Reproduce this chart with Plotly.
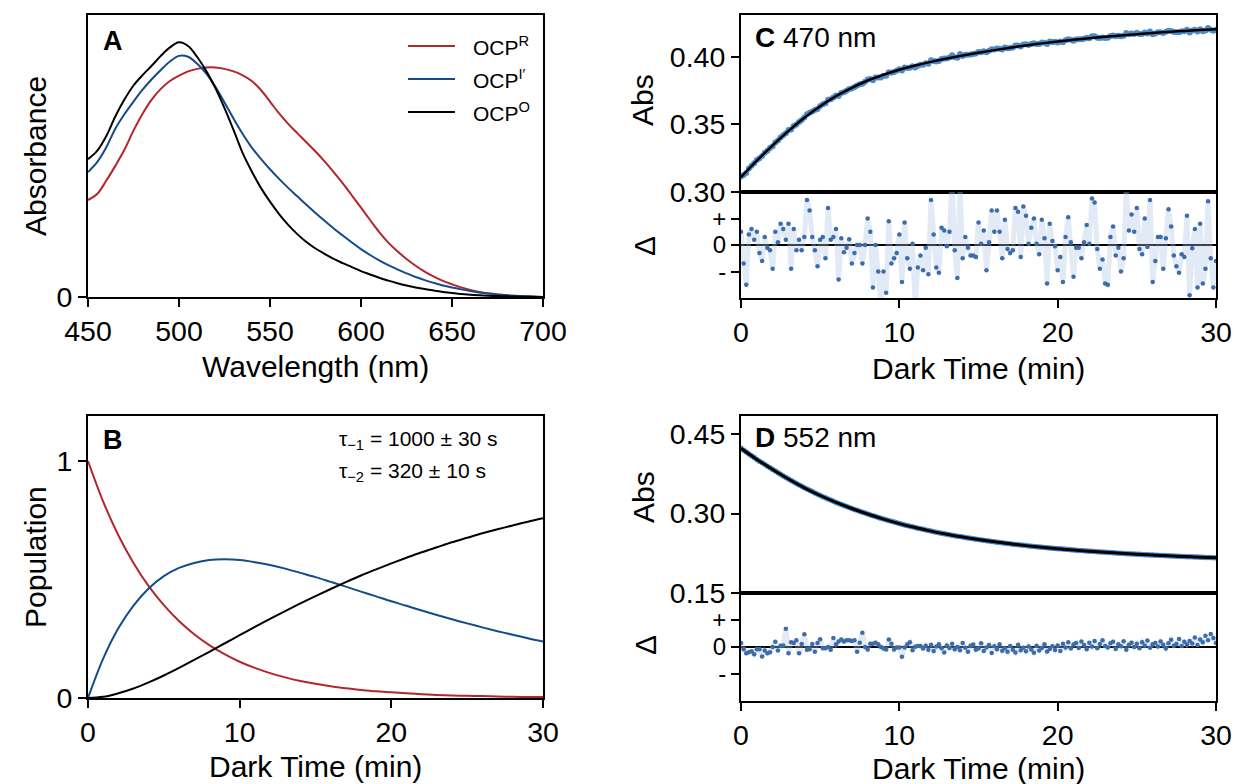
import plotly.graph_objects as go

# ---------------- data ----------------
wavelength = list(range(450, 701, 5))
abs_R = [.344, .365, .412, .465, .522, .590, .650, .700, .738, .766, .785, .800, .809, .814, .814, .809,
         .800, .786, .766, .734, .693, .651, .614, .581, .549, .516, .481, .443, .403, .360, .317, .273,
         .230, .193, .162, .135, .111, .090, .072, .057, .045, .034, .025, .018, .013, .009, .006, .0035,
         .002, .001, 0.0]
abs_I = [.443, .478, .530, .597, .648, .693, .735, .772, .805, .835, .855, .852, .827, .792, .745, .690,
         .632, .578, .530, .490, .453, .419, .387, .357, .327, .298, .270, .243, .218, .193, .170, .149,
         .130, .113, .098, .084, .071, .060, .050, .041, .034, .027, .021, .016, .012, .009, .006, .004,
         .0025, .001, 0.0]
abs_O = [.489, .518, .570, .640, .700, .750, .787, .820, .855, .885, .903, .890, .851, .801, .741, .670,
         .592, .510, .445, .387, .338, .294, .256, .223, .195, .172, .153, .135, .120, .106, .092, .080,
         .068, .058, .049, .041, .034, .028, .023, .018, .014, .011, .008, .006, .0045, .0033, .0024, .0016,
         .001, .0005, 0.0]

t_min = list(range(0, 31))
pop_R = [1.0, .829, .687, .570, .472, .392, .325, .269, .223, .185, .153, .127, .105, .087, .072, .060,
         .050, .041, .034, .028, .024, .020, .016, .013, .011, .009, .008, .006, .005, .004, .004]
pop_I = [0.0, .166, .294, .390, .462, .514, .549, .570, .582, .585, .582, .573, .561, .546, .528, .510,
         .490, .470, .449, .429, .408, .389, .369, .350, .332, .315, .298, .282, .267, .252, .238]
pop_O = [0.0, .005, .020, .040, .066, .095, .127, .161, .195, .230, .265, .300, .334, .367, .399, .430,
         .460, .489, .517, .543, .568, .592, .615, .636, .657, .676, .695, .712, .728, .744, .759]

t_kin = [i / 6 for i in range(181)]   # 10 s sampling, minutes

fit470 = [.3110, .3232, .3345, .3452, .3550, .3635, .3710, .3771, .3825, .3868, .3905, .3936, .3963, .3988,
          .4010, .4031, .4050, .4068, .4085, .4100, .4114, .4127, .4138, .4149, .4159, .4168, .4177, .4185,
          .4192, .4199, .4205]
abs470 = [.3114, .3125, .3140, .3174, .3195, .3213, .3236, .3249, .3266, .3290, .3306, .3325,
          .3339, .3366, .3382, .3404, .3420, .3435, .3458, .3462, .3489, .3500, .3518, .3533,
          .3552, .3576, .3587, .3595, .3606, .3615, .3636, .3650, .3656, .3683, .3686, .3700,
          .3714, .3711, .3732, .3739, .3750, .3763, .3766, .3778, .3789, .3798, .3802, .3816,
          .3832, .3836, .3828, .3847, .3847, .3847, .3861, .3861, .3886, .3882, .3889, .3897,
          .3908, .3900, .3921, .3917, .3920, .3931, .3921, .3934, .3942, .3942, .3953, .3950,
          .3975, .3970, .3965, .3969, .3985, .3988, .3988, .3995, .4012, .3998, .3994, .4021,
          .4006, .4016, .4016, .4018, .4021, .4025, .4037, .4034, .4041, .4034, .4045, .4056,
          .4054, .4062, .4060, .4055, .4069, .4064, .4066, .4070, .4084, .4085, .4076, .4092,
          .4093, .4088, .4095, .4100, .4095, .4096, .4107, .4104, .4095, .4113, .4110, .4112,
          .4107, .4113, .4108, .4123, .4130, .4126, .4119, .4128, .4130, .4130, .4135, .4141,
          .4138, .4152, .4153, .4142, .4139, .4143, .4139, .4141, .4154, .4159, .4153, .4156,
          .4152, .4157, .4176, .4168, .4173, .4170, .4178, .4169, .4169, .4180, .4174, .4188,
          .4167, .4174, .4182, .4183, .4176, .4186, .4194, .4191, .4184, .4183, .4183, .4189,
          .4189, .4201, .4181, .4195, .4201, .4187, .4205, .4190, .4195, .4214, .4200, .4193,
          .4201]
res470 = [0.5, -0.7, -1.5, 0.4, 0.6, 0.2, 0.5, -0.3, -0.6, 0.3, -0.1, -0.2, -0.9, 0.5, 0.1, 0.8, 0.6, 0.2,
          0.8, -0.9, 0.6, -0.2, 0.2, -0.2, 0.3, 1.7, 1.3, 0.3, -0.2, -0.8, 0.2, 0.3, -0.5, 1.4, 0.2, 0.3,
          0.6, -1.3, 0.25, -0.27, -0.1, 0.22, -0.7, -0.3, 0.0,
          0.0, -0.7, 0.0, 1.0, 0.5, -1.6, 0.0, -1.0, -2.2, -1.0,
          -1.8, 0.9, -0.7, -0.5, -0.3, 0.4, -1.4, 0.85, -0.5, -0.9,
          0.05, -2.3, -0.85, -0.4, -0.95, -0.1, -1.1, 1.7, 0.4, -0.85,
          -1.05, 0.65, 0.55, -0.05, 0.5, 2.4, -0.2, -1.25, 2.3, -0.5,
          0.3, -0.1, -0.4, -0.4, -0.45, 0.85, 0.05, 0.55, -0.95, 0.1,
          1.3, 0.5, 1.3, 0.5, -0.5, 0.95, -0.15, -0.3, -0.2, 1.4,
          1.25, -0.45, 1.45, 1.1, 0.05, 0.65, 1.0, 0.05, -0.35, 0.95,
          0.25, -1.45, 0.8, 0.15, -0.05, -0.95, -0.45, -1.4, 0.3, 1.05,
          0.1, -1.2, -0.1, -0.1, -0.5, 0.1, 0.75, 0.05, 1.75, 1.6,
          -0.15, -0.9, -0.55, -1.45, -1.5, 0.3, 0.7,
          -0.4, -0.1, -1.0, -0.5, 2.2, 0.55, 1.15, 0.5, 1.4, -0.15, -0.35,
          1.0, -0.08, 1.7, -1.4, -0.6, 0.3, 0.3, -0.9, 0.25, 1.35,
          0.7, -0.4, -0.8, -1.05, -0.35, -0.45, 1.1, -1.9, -0.12, 0.6,
          -1.6, 0.8, -1.45, -0.9, 1.65, -0.5, -1.6, -0.6]

fit552 = [.4230, .4020, .3830, .3650, .3485, .3340, .3210, .3095, .2990, .2895, .2810, .2735, .2668, .2608,
          .2555, .2508, .2466, .2428, .2394, .2364, .2337, .2312, .2289, .2268, .2249, .2232, .2216, .2201,
          .2188, .2176, .2165]
abs552 = [.4230, .4195, .4160, .4125, .4090, .4055, .4020, .3988, .3957, .3925, .3893, .3862,
          .3830, .3800, .3770, .3740, .3710, .3680, .3650, .3623, .3595, .3568, .3540, .3513,
          .3485, .3461, .3437, .3413, .3388, .3364, .3340, .3318, .3297, .3275, .3253, .3232,
          .3210, .3191, .3172, .3153, .3133, .3114, .3095, .3078, .3060, .3043, .3025, .3008,
          .2990, .2974, .2958, .2943, .2927, .2911, .2895, .2881, .2867, .2853, .2838, .2824,
          .2810, .2798, .2785, .2773, .2760, .2748, .2735, .2724, .2713, .2701, .2690, .2679,
          .2668, .2658, .2648, .2638, .2628, .2618, .2608, .2599, .2590, .2582, .2573, .2564,
          .2555, .2547, .2539, .2532, .2524, .2516, .2508, .2501, .2494, .2487, .2480, .2473,
          .2466, .2460, .2453, .2447, .2441, .2434, .2428, .2422, .2417, .2411, .2405, .2400,
          .2394, .2389, .2384, .2379, .2374, .2369, .2364, .2360, .2355, .2351, .2346, .2342,
          .2337, .2333, .2329, .2324, .2320, .2316, .2312, .2308, .2304, .2301, .2297, .2293,
          .2289, .2286, .2282, .2279, .2275, .2272, .2268, .2265, .2262, .2258, .2255, .2252,
          .2249, .2246, .2243, .2241, .2238, .2235, .2232, .2229, .2227, .2224, .2221, .2219,
          .2216, .2214, .2211, .2209, .2206, .2204, .2201, .2199, .2197, .2194, .2192, .2190,
          .2188, .2186, .2184, .2182, .2180, .2178, .2176, .2174, .2172, .2171, .2169, .2167,
          .2165]
res552 = [0.15, -0.08, -0.23, -0.19, -0.16, -0.27, -0.08, -0.08, -0.35, -0.13,
          -0.23, -0.19, 0.0, 0.19, -0.13, 0.05, 0.06, 0.68, -0.23, 0.18,
          0.15, 0.25, -0.23, 0.11, 0.47, -0.1, -0.08, 0.11, -0.18, 0.15,
          0.29, -0.05, -0.05, 0.0, -0.1,
          0.33, 0.1, 0.2, 0.28, 0.2, 0.25, 0.25, 0.22, 0.25, -0.18, 0.16, 0.53, 0.0, -0.09, 0.12,
          0.12, 0.16, 0.1, 0.0, -0.06, -0.09, 0.28, 0.12, -0.09, -0.02, -0.02, -0.36, -0.02, 0.1,
          0.18, -0.12, 0.01, 0.04, 0.04, -0.06,
          0.05, -0.1, 0.08, -0.15, 0.02, 0.1, -0.05, -0.2, 0.06, -0.04,
          0.12, -0.08, 0.0, -0.12, 0.15, -0.03, -0.18, 0.05, 0.09, -0.1,
          -0.06, 0.14, -0.15, -0.02, 0.07, -0.22, 0.03, -0.08, 0.1, -0.14,
          -0.05, -0.18, 0.04, -0.1, -0.2, 0.08, -0.12, -0.03, -0.16, 0.02,
          -0.09, -0.21, 0.05, -0.13, -0.04, 0.1, -0.17, -0.07, 0.03, -0.11,
          0.06, -0.15, 0.12, -0.02, 0.18, -0.06, 0.09, 0.15, -0.04, 0.2,
          0.07, -0.08, 0.16, 0.02, 0.22, -0.05, 0.11, 0.25, 0.04, -0.02,
          0.14, 0.19, -0.07, 0.1, 0.03, 0.21, -0.1, 0.08, 0.16, 0.0,
          0.12, -0.05, 0.18, 0.06, 0.24, -0.03, 0.1, 0.15, 0.02, 0.2,
          0.08, -0.06, 0.14, 0.27, 0.05, 0.11, 0.3, 0.04, 0.19, 0.09,
          0.22, 0.13, 0.35, 0.07, 0.28, 0.18, 0.42, 0.25, 0.48, 0.33,
          0.15]

series_names = ["OCP<sup>R</sup>", "OCP<sup>I\u2032</sup>", "OCP<sup>O</sup>"]
res_ticks = ["-", "0", "+"]
RED, BLUE, BLACK = "#b3262c", "#134b8b", "#000000"
DOT, DOT_RES, BAND = "#4d8cc9", "#3c6ca9", "rgba(170,195,225,0.35)"
FONT = "Liberation Sans, Arial, Helvetica, sans-serif"
TICK_SIZE, RES_TICK_SIZE, TITLE_SIZE = 28.5, 24, 30

# ---------------- layout helpers (pixel -> paper) ----------------
W, H = 1235, 784
def fx(p): return p / W
def fy(p): return 1 - p / H

def ax(**kw):
    base = dict(showline=True, linecolor="black", linewidth=2, mirror=True, ticks="outside",
                ticklen=8, tickwidth=2, tickcolor="black", showgrid=False, zeroline=False,
                automargin=False, tickfont=dict(size=TICK_SIZE, color="black", family=FONT))
    base.update(kw)
    return base

fig = go.Figure()

# Panel A
for y, c, n in zip([abs_R, abs_I, abs_O], [RED, BLUE, BLACK], series_names):
    fig.add_trace(go.Scatter(x=wavelength, y=y, mode="lines", line=dict(color=c, width=2, shape="spline"),
                             name=n, showlegend=False, xaxis="x", yaxis="y"))
# Panel B
for y, c in zip([pop_R, pop_I, pop_O], [RED, BLUE, BLACK]):
    fig.add_trace(go.Scatter(x=t_min, y=y, mode="lines", line=dict(color=c, width=2, shape="spline"),
                             showlegend=False, xaxis="x2", yaxis="y2"))
# Panel C
fig.add_trace(go.Scatter(x=t_kin, y=abs470, mode="markers", marker=dict(color=DOT, size=6),
                         showlegend=False, xaxis="x3", yaxis="y3"))
fig.add_trace(go.Scatter(x=t_min, y=fit470, mode="lines", line=dict(color="black", width=2.5, shape="spline"),
                         showlegend=False, xaxis="x3", yaxis="y3"))
fig.add_trace(go.Scatter(x=t_kin, y=res470, mode="lines+markers", line=dict(color=BAND, width=5),
                         marker=dict(color=DOT_RES, size=4.5), showlegend=False, xaxis="x4", yaxis="y4"))
# Panel D
fig.add_trace(go.Scatter(x=t_kin, y=abs552, mode="markers", marker=dict(color=DOT, size=5.5),
                         showlegend=False, xaxis="x5", yaxis="y5"))
fig.add_trace(go.Scatter(x=t_min, y=fit552, mode="lines", line=dict(color="black", width=3, shape="spline"),
                         showlegend=False, xaxis="x5", yaxis="y5"))
fig.add_trace(go.Scatter(x=t_kin, y=res552, mode="lines+markers", line=dict(color=BAND, width=5),
                         marker=dict(color=DOT_RES, size=4.5), showlegend=False, xaxis="x6", yaxis="y6"))

xA = [fx(88), fx(543)]
xC = [fx(741), fx(1216)]
tt = [0, 10, 20, 30]
res_font = dict(size=RES_TICK_SIZE, color="black", family=FONT)
fig.update_layout(
    width=W, height=H, margin=dict(l=0, r=0, t=0, b=0, pad=0, autoexpand=False),
    showlegend=False,
    paper_bgcolor="white", plot_bgcolor="white",
    font=dict(family=FONT, color="black"),
    xaxis=ax(domain=xA, range=[450, 700], tickvals=[450, 500, 550, 600, 650, 700], anchor="y"),
    yaxis=ax(domain=[fy(297), fy(15)], range=[0, 1.0], tickvals=[0], anchor="x"),
    xaxis2=ax(domain=xA, range=[0, 30], tickvals=tt, anchor="y2"),
    yaxis2=ax(domain=[fy(698), fy(416)], range=[0, 1.19], tickvals=[0, 1], anchor="x2"),
    xaxis3=ax(domain=xC, range=[0, 30], tickvals=tt, showticklabels=False, ticks="", anchor="y3", matches="x4"),
    yaxis3=ax(domain=[fy(192), fy(15)], range=[0.30, 0.431], tickvals=[0.30, 0.35, 0.40],
              ticktext=["0.30", "0.35", "0.40"], anchor="x3"),
    xaxis4=ax(domain=xC, range=[0, 30], tickvals=tt, anchor="y4"),
    yaxis4=ax(domain=[fy(298), fy(192)], range=[-2, 2], tickvals=[-1, 0, 1], ticktext=res_ticks,
              tickfont=res_font, zeroline=True, zerolinecolor="black", zerolinewidth=2, anchor="x4"),
    xaxis5=ax(domain=xC, range=[0, 30], tickvals=tt, showticklabels=False, ticks="", anchor="y5", matches="x6"),
    yaxis5=ax(domain=[fy(593), fy(416)], range=[0.15, 0.484], tickvals=[0.15, 0.30, 0.45],
              ticktext=["0.15", "0.30", "0.45"], anchor="x5"),
    xaxis6=ax(domain=xC, range=[0, 30], tickvals=tt, anchor="y6"),
    yaxis6=ax(domain=[fy(701), fy(593)], range=[-2, 2], tickvals=[-1, 0, 1], ticktext=res_ticks,
              tickfont=res_font, zeroline=True, zerolinecolor="black", zerolinewidth=2, anchor="x6"),
)

def txt(x, y, s, size=TITLE_SIZE, angle=0, xanchor="center"):
    fig.add_annotation(x=fx(x), y=fy(y), xref="paper", yref="paper", text=s, showarrow=False,
                       textangle=angle, xanchor=xanchor, yanchor="middle",
                       font=dict(size=size, color="black", family=FONT))

# axis titles
txt(315, 366, "Wavelength (nm)")
txt(315, 766, "Dark Time (min)")
txt(978, 368, "Dark Time (min)")
txt(978, 768, "Dark Time (min)")
txt(35, 156, "Absorbance", angle=-90)
txt(35, 557, "Population", angle=-90)
txt(643, 100, "Abs", angle=-90)
txt(645, 246, "\u0394", angle=-90)
txt(643, 497, "Abs", angle=-90)
txt(645, 645, "\u0394", angle=-90)

# panel labels
txt(101, 41, "<b>A</b>", size=27, xanchor="left")
txt(101, 440, "<b>B</b>", size=27, xanchor="left")
txt(753, 37, "<b>C</b> 470 nm", size=28, xanchor="left")
txt(753, 437, "<b>D</b> 552 nm", size=28, xanchor="left")

# lifetimes
txt(337, 440, "\u03c4<sub>\u22121</sub> = 1000 \u00b1 30 s", size=21, xanchor="left")
txt(337, 472, "\u03c4<sub>\u22122</sub> = 320 \u00b1 10 s", size=21, xanchor="left")

# legend (panel A)
for i, (c, n) in enumerate(zip([RED, BLUE, BLACK], series_names)):
    yy = 46 + i * 33
    fig.add_shape(type="line", xref="paper", yref="paper", x0=fx(408), x1=fx(455), y0=fy(yy), y1=fy(yy),
                  line=dict(color=c, width=2))
    txt(471, yy, n, size=21, xanchor="left")

fig.write_html("out.html")
